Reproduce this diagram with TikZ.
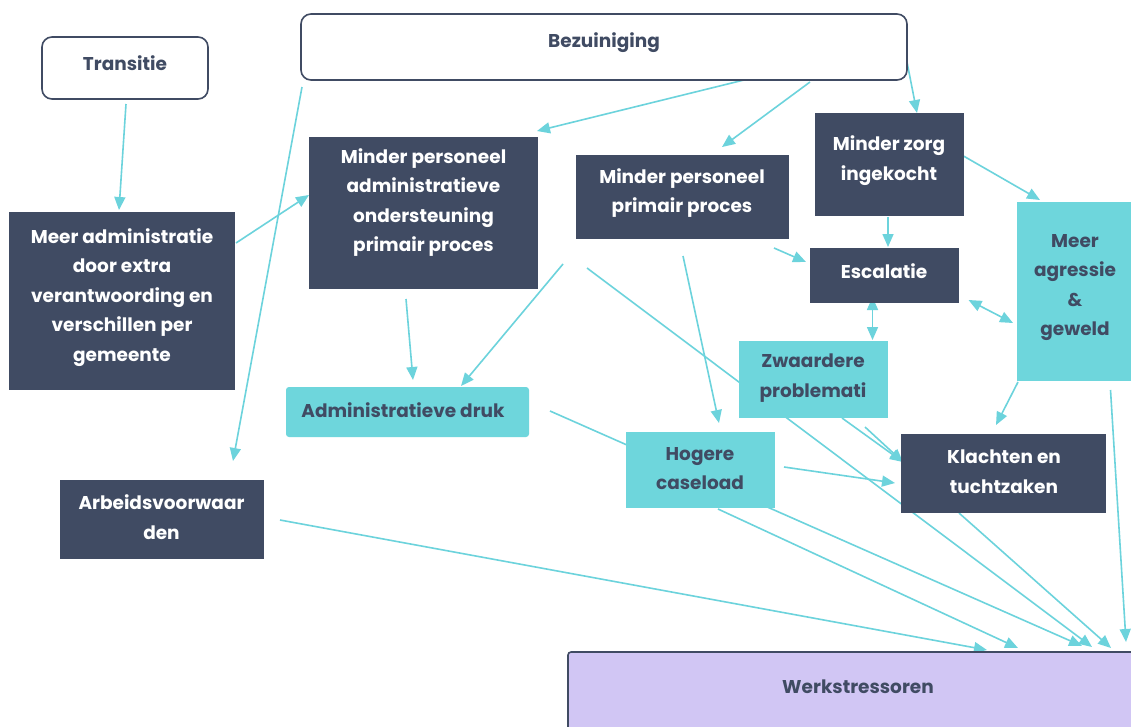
\documentclass[tikz,border=0pt]{standalone}
\usepackage{fontspec}
\setmainfont{Poppins}
\usetikzlibrary{arrows.meta}
\definecolor{navy}{RGB}{64,75,99}
\definecolor{aqua}{RGB}{110,214,220}
\definecolor{lav}{RGB}{209,198,244}
\definecolor{conn}{RGB}{108,211,220}
\pgfdeclarelayer{back}
\pgfdeclarelayer{bg}
\pgfsetlayers{back,bg,main}
\tikzset{
  boxbase/.style={inner sep=0pt, outer sep=0pt},
  whitebox/.style={boxbase, draw=navy, line width=1.6pt, fill=white, rounded corners=10pt},
  darkbox/.style={boxbase, fill=navy},
  aquabox/.style={boxbase, fill=aqua},
  lavbox/.style={boxbase, fill=lav, draw=navy, line width=1.6pt, rounded corners=3pt},
  lbl/.style={align=center, inner sep=0pt, font=\fontsize{18.5}{29.5}\selectfont\bfseries},
  wlbl/.style={lbl, text=white},
  dlbl/.style={lbl, text=navy},
  conn/.style={draw=conn, line width=1.6pt, -{Triangle[length=13pt,width=11pt]}},
  biconn/.style={draw=conn, line width=1.6pt, {Triangle[length=13pt,width=11pt]}-{Triangle[length=13pt,width=11pt]}}
}
\begin{document}
\begin{tikzpicture}[x=1pt,y=-1pt]
\clip (0,0) rectangle (1131,726);
\begin{pgfonlayer}{back}
\fill[white] (0,0) rectangle (1131,726);
\end{pgfonlayer}
% boxes
\node[whitebox, minimum width=166pt, minimum height=62pt] (trans) at (125,68) {};
\node[whitebox, minimum width=606pt, minimum height=66pt] (bez) at (604,47) {};
\node[darkbox, minimum width=226pt, minimum height=178pt] (madm) at (122,301) {};
\node[darkbox, minimum width=229pt, minimum height=152pt] (mpa) at (423.5,213) {};
\node[darkbox, minimum width=213pt, minimum height=84pt] (mpp) at (682.5,197) {};
\node[darkbox, minimum width=149pt, minimum height=103pt] (mzi) at (889.5,164.5) {};
\node[darkbox, minimum width=149pt, minimum height=55pt] (esc) at (884.5,275.5) {};
\node[aquabox, minimum width=128pt, minimum height=179pt] (agr) at (1081,291.5) {};
\node[aquabox, minimum width=149pt, minimum height=77pt] (zwa) at (813.5,379.5) {};
\node[aquabox, rounded corners=3pt, minimum width=243pt, minimum height=50pt] (adm) at (407.5,412) {};
\node[aquabox, minimum width=149pt, minimum height=76pt] (hog) at (700.5,470) {};
\node[darkbox, minimum width=205pt, minimum height=79pt] (kla) at (1003.5,473.5) {};
\node[darkbox, minimum width=204pt, minimum height=79pt] (arb) at (162,519.5) {};
\node[lavbox, minimum width=582pt, minimum height=93pt] (wer) at (859,698.5) {};
% labels
\node[dlbl] (transt) at (125,63) {Transitie};
\node[dlbl] (bezt) at (604,43) {Bezuiniging};
\node[wlbl] (madmt) at (122,297.5) {Meer administratie\\door extra\\verantwoording en\\verschillen per\\gemeente};
\node[wlbl] (mpat) at (423.5,202.5) {Minder personeel\\administratieve\\ondersteuning\\primair proces};
\node[wlbl] (mppt) at (682,193) {Minder personeel\\primair proces};
\node[wlbl] (mzit) at (889,160.5) {Minder zorg\\ingekocht};
\node[wlbl] (esct) at (884,271) {Escalatie};
\node[dlbl] (agrt) at (1075,287.5) {Meer\\agressie\\\&\\geweld};
\node[dlbl] (zwat) at (813,378) {Zwaardere\\problemati};
\node[dlbl] (admt) at (403,410) {Administratieve druk};
\node[dlbl] (hogt) at (700,468.5) {Hogere\\caseload};
\node[wlbl] (klat) at (1004,471.5) {Klachten en\\tuchtzaken};
\node[wlbl] (arbt) at (161.5,517) {Arbeidsvoorwaar\\den};
\node[dlbl] (wert) at (858,687) {Werkstressoren};
% connectors
\begin{pgfonlayer}{bg}
\draw[conn] ([shift={(1,36)}]trans.center) -- ([shift={(-3,-91)}]madm.center);
\draw[conn] ([shift={(114,-58)}]madm.center) -- ([shift={(-114.5,-18)}]mpa.center);
\draw[conn] ([shift={(-302,40)}]bez.center) -- ([shift={(71,-58.5)}]arb.center);
\draw[conn] ([shift={(144,32)}]bez.center) -- ([shift={(113.5,-82)}]mpa.center);
\draw[conn] ([shift={(206,35)}]bez.center) -- ([shift={(39.5,-50)}]mpp.center);
\draw[conn] ([shift={(302,10)}]bez.center) -- ([shift={(27.5,-51.5)}]mzi.center);
\draw[conn] ([shift={(70.5,-10.5)}]mzi.center) -- ([shift={(-41,-91.5)}]agr.center);
\draw[conn] ([shift={(-1.5,52.5)}]mzi.center) -- ([shift={(3.5,-28.5)}]esc.center);
\draw[conn] ([shift={(91.5,51)}]mpp.center) -- ([shift={(-78.5,-13.5)}]esc.center);
\draw[conn] ([shift={(0.5,59)}]mpp.center) -- ([shift={(18.5,-47)}]hog.center);
\draw[conn] ([shift={(-119.5,67)}]mpp.center) -- ([shift={(53.5,-26)}]adm.center);
\draw[conn] ([shift={(-17.5,86)}]mpa.center) -- ([shift={(5.5,-32)}]adm.center);
\draw[conn] ([shift={(163.5,55)}]mpa.center) -- ([shift={(233,-51.5)}]wer.center);
\draw[conn] ([shift={(142.5,-1)}]adm.center) -- ([shift={(223,-52.5)}]wer.center);
\draw[biconn] ([shift={(-12,21.5)}]esc.center) -- ([shift={(59,-39.5)}]zwa.center);
\draw[biconn] ([shift={(84,24.5)}]esc.center) -- ([shift={(-68,31.5)}]agr.center);
\draw[conn] ([shift={(-63,90.5)}]agr.center) -- ([shift={(-7.5,-48.5)}]kla.center);
\draw[conn] ([shift={(28.5,38.5)}]zwa.center) -- ([shift={(-100.5,-11.5)}]kla.center);
\draw[conn] ([shift={(51.5,47.5)}]zwa.center) -- ([shift={(-100.5,-11.5)}]kla.center);
\draw[conn] ([shift={(83.5,-3)}]hog.center) -- ([shift={(-108.5,9.5)}]kla.center);
\draw[conn] ([shift={(17.5,39)}]hog.center) -- ([shift={(159,-50.5)}]wer.center);
\draw[conn] ([shift={(118,0.5)}]arb.center) -- ([shift={(128,-48.5)}]wer.center);
\draw[conn] ([shift={(-44.5,39.5)}]kla.center) -- ([shift={(252,-50.5)}]wer.center);
\draw[conn] ([shift={(29.5,98.5)}]agr.center) -- ([shift={(267,-56.5)}]wer.center);
\end{pgfonlayer}
\end{tikzpicture}
\end{document}
